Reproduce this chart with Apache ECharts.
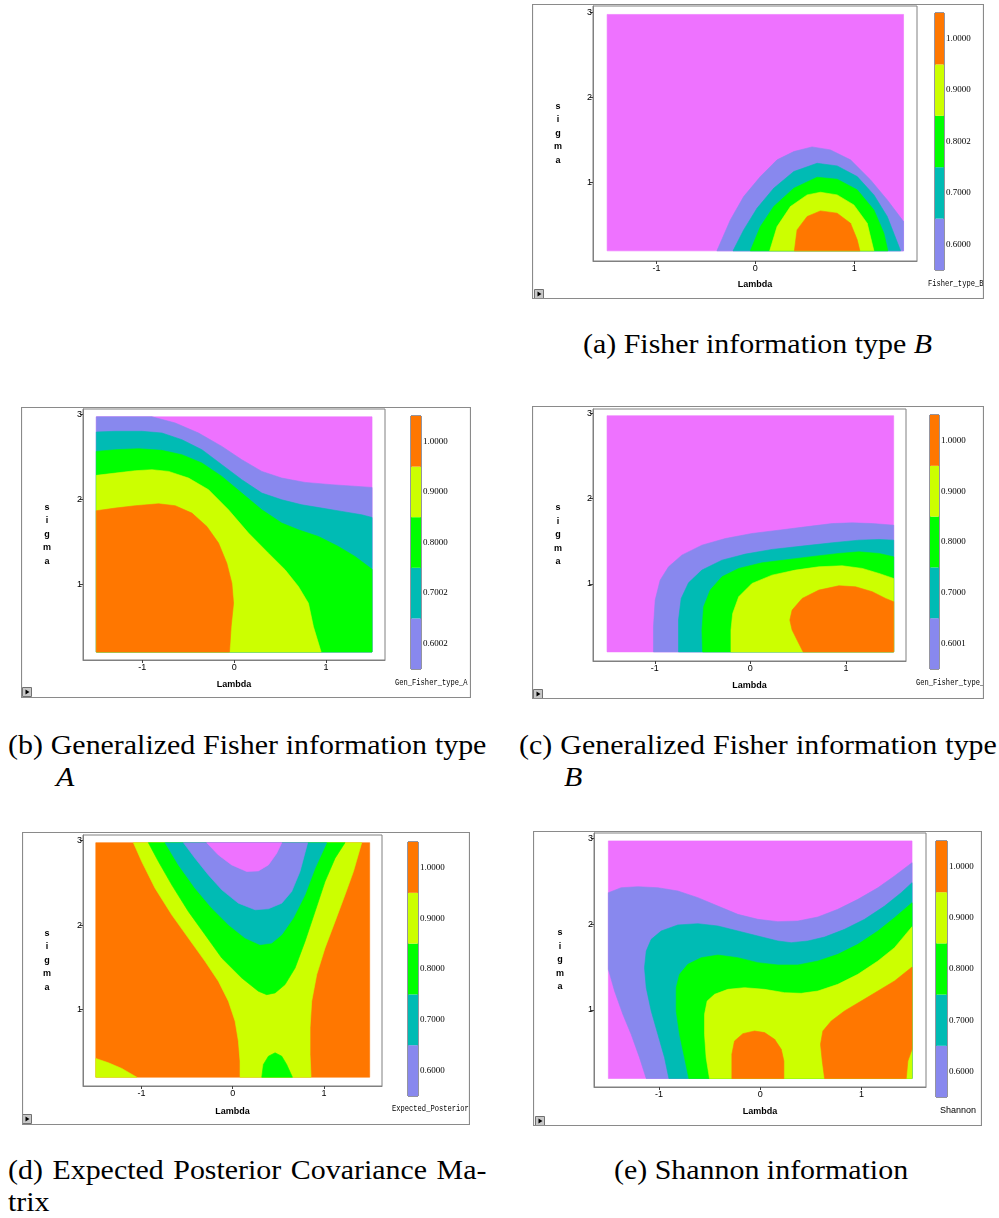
<!DOCTYPE html>
<html>
<head>
<meta charset="utf-8">
<title>Information criteria contour maps</title>
<script src="https://cdn.jsdelivr.net/npm/echarts@6.0.0/dist/echarts.min.js"></script>
<style>
html,body{margin:0;padding:0;background:#fff;}
body{width:999px;height:1218px;position:relative;overflow:hidden;}
.panel{position:absolute;}
.cap{position:absolute;font-family:'Liberation Serif','Times New Roman',serif;font-size:27px;line-height:28px;color:#000;white-space:nowrap;transform-origin:0 0;}
</style>
</head>
<body>
<div id="pa" class="panel"></div>
<div id="pb" class="panel"></div>
<div id="pc" class="panel"></div>
<div id="pd" class="panel"></div>
<div id="pe" class="panel"></div>

<div class="cap" id="capA" data-x="583" data-y="345">(a) Fisher information type <i>B</i></div>
<div class="cap" data-x="8" data-y="746" data-w="478">(b) Generalized Fisher information type</div>
<div class="cap" data-x="56" data-y="778"><i>A</i></div>
<div class="cap" data-x="519" data-y="746" data-w="478">(c) Generalized Fisher information type</div>
<div class="cap" data-x="564" data-y="778"><i>B</i></div>
<div class="cap" data-x="8" data-y="1171" data-w="478">(d) Expected Posterior Covariance Ma-</div>
<div class="cap" data-x="8" data-y="1203">trix</div>
<div class="cap" data-x="614" data-y="1171">(e) Shannon information</div>

<script>
// ================= DATA =================
const lambdaTicks = [-1, 0, 1];
const sigmaTicks = [1, 2, 3];
const lambdaDomain = [-1.5, 1.5];
const sigmaDomain = [0.2, 2.975];

// colour-bar tick labels (bottom -> top)
const cbarLabelsA = ['0.6000', '0.7000', '0.8002', '0.9000', '1.0000'];
const cbarLabelsB = ['0.6002', '0.7002', '0.8000', '0.9000', '1.0000'];
const cbarLabelsC = ['0.6001', '0.7000', '0.8000', '0.9000', '1.0000'];
const cbarLabelsD = ['0.6000', '0.7000', '0.8000', '0.9000', '1.0000'];
const cbarLabelsE = ['0.6000', '0.7000', '0.8000', '0.9000', '1.0000'];
const cbarValues = [1, 1, 1, 1, 1];

// contour region boundaries, [lambda, sigma]
// (a) Fisher type B : regions where value >= level
const a_ge06 = [[-0.389,0.2],[-0.253,0.563],[-0.118,0.837],[0.051,1.072],[0.220,1.268],[0.389,1.365],[0.574,1.420],[0.760,1.385],[0.963,1.268],[1.166,1.033],[1.335,0.798],[1.5,0.544],[1.5,0.2]];
const a_ge07 = [[-0.226,0.2],[-0.118,0.446],[0.017,0.700],[0.186,0.935],[0.389,1.131],[0.625,1.228],[0.828,1.197],[1.031,1.072],[1.200,0.857],[1.335,0.603],[1.470,0.2]];
const a_ge08 = [[-0.051,0.2],[0.051,0.485],[0.186,0.720],[0.389,0.935],[0.625,1.064],[0.828,1.041],[1.031,0.916],[1.200,0.681],[1.301,0.407],[1.341,0.2]];
const a_ge09 = [[0.145,0.2],[0.220,0.485],[0.355,0.720],[0.524,0.857],[0.659,0.888],[0.828,0.857],[0.997,0.739],[1.132,0.524],[1.200,0.2]];
const a_ge10 = [[0.395,0.2],[0.422,0.446],[0.524,0.603],[0.659,0.669],[0.828,0.642],[0.963,0.524],[1.031,0.329],[1.058,0.2]];

// (b) Generalized Fisher type A : value >= level
const b_ge06 = [[-1.5,2.975],[-0.895,2.975],[-0.641,2.902],[-0.388,2.784],[-0.134,2.626],[0.083,2.469],[0.301,2.331],[0.518,2.252],[0.772,2.201],[1.062,2.174],[1.5,2.142],[1.5,0.2],[-1.5,0.2]];
const b_ge07 = [[-1.5,2.796],[-1.293,2.804],[-1.004,2.804],[-0.786,2.784],[-0.569,2.705],[-0.351,2.587],[-0.134,2.410],[0.083,2.233],[0.301,2.075],[0.518,1.996],[0.736,1.937],[0.953,1.898],[1.170,1.859],[1.388,1.819],[1.5,1.788],[1.5,0.2],[-1.5,0.2]];
const b_ge08 = [[-1.5,2.567],[-1.293,2.587],[-1.040,2.599],[-0.786,2.579],[-0.569,2.528],[-0.351,2.430],[-0.134,2.272],[0.083,2.075],[0.301,1.878],[0.518,1.721],[0.699,1.642],[0.917,1.563],[1.134,1.445],[1.315,1.327],[1.5,1.177],[1.5,0.2],[-1.5,0.2]];
const b_ge09 = [[-1.5,2.284],[-1.293,2.311],[-1.076,2.339],[-0.895,2.351],[-0.714,2.331],[-0.496,2.252],[-0.279,2.115],[-0.062,1.878],[0.156,1.603],[0.373,1.366],[0.554,1.170],[0.699,0.973],[0.808,0.776],[0.862,0.500],[0.946,0.2],[-1.5,0.2]];
const b_ge10 = [[-1.5,1.867],[-1.293,1.898],[-1.076,1.926],[-0.822,1.949],[-0.641,1.926],[-0.460,1.839],[-0.297,1.681],[-0.170,1.485],[-0.080,1.248],[-0.025,1.012],[-0.007,0.776],[-0.033,0.500],[-0.051,0.2],[-1.5,0.2]];

// (c) Generalized Fisher type B : value >= level
const c_ge06 = [[-1.014,0.2],[-1.014,0.496],[-0.996,0.809],[-0.944,1.043],[-0.856,1.200],[-0.717,1.337],[-0.507,1.454],[-0.262,1.532],[0.017,1.591],[0.297,1.630],[0.577,1.669],[0.856,1.708],[1.066,1.716],[1.276,1.708],[1.5,1.689],[1.5,0.2]];
const c_ge07 = [[-0.752,0.2],[-0.752,0.574],[-0.724,0.828],[-0.647,1.012],[-0.507,1.161],[-0.297,1.278],[-0.052,1.349],[0.227,1.404],[0.542,1.443],[0.857,1.482],[1.136,1.513],[1.346,1.521],[1.5,1.513],[1.5,0.2]];
const c_ge08 = [[-0.5,0.2],[-0.507,0.457],[-0.489,0.731],[-0.420,0.926],[-0.297,1.083],[-0.122,1.181],[0.122,1.247],[0.402,1.286],[0.682,1.325],[0.926,1.357],[1.136,1.376],[1.346,1.357],[1.5,1.317],[1.5,0.2]];
const c_ge09 = [[-0.203,0.2],[-0.203,0.457],[-0.185,0.652],[-0.122,0.848],[0.017,1.004],[0.227,1.102],[0.472,1.161],[0.717,1.200],[0.961,1.212],[1.171,1.181],[1.346,1.122],[1.5,1.063],[1.5,0.2]];
const c_ge10 = [[0.552,0.2],[0.489,0.339],[0.437,0.457],[0.413,0.574],[0.437,0.691],[0.542,0.828],[0.717,0.926],[0.926,0.977],[1.101,0.965],[1.276,0.907],[1.416,0.828],[1.5,0.789],[1.5,0.2]];

// (d) Expected posterior covariance : regions where value < level
const d_lt10a = [[-1.088,2.975],[-0.997,2.752],[-0.851,2.437],[-0.668,2.122],[-0.486,1.847],[-0.303,1.571],[-0.157,1.335],[-0.047,1.099],[0.026,0.863],[0.062,0.627],[0.080,0.391],[0.080,0.2],[0.858,0.2],[0.847,0.469],[0.847,0.784],[0.865,1.099],[0.920,1.414],[1.011,1.729],[1.121,2.043],[1.230,2.358],[1.322,2.633],[1.413,2.975]];
const d_lt10b = [[-1.5,0.422],[-1.362,0.371],[-1.216,0.304],[-1.051,0.2],[-1.5,0.2]];
const d_lt09a = [[-0.924,2.975],[-0.814,2.752],[-0.668,2.476],[-0.486,2.161],[-0.303,1.886],[-0.120,1.610],[0.099,1.374],[0.281,1.217],[0.372,1.177],[0.464,1.197],[0.573,1.296],[0.683,1.492],[0.792,1.807],[0.902,2.161],[1.011,2.515],[1.121,2.791],[1.230,2.975]];
const d_lt09b = [[0.318,0.2],[0.336,0.351],[0.391,0.449],[0.464,0.489],[0.537,0.449],[0.591,0.351],[0.654,0.2]];
const d_lt08 = [[-0.741,2.975],[-0.595,2.712],[-0.413,2.437],[-0.230,2.201],[-0.047,2.004],[0.135,1.847],[0.299,1.768],[0.427,1.787],[0.537,1.886],[0.664,2.083],[0.792,2.358],[0.902,2.673],[1.030,2.975]];
const d_lt07 = [[-0.540,2.975],[-0.413,2.791],[-0.267,2.594],[-0.120,2.417],[0.062,2.259],[0.245,2.181],[0.391,2.193],[0.537,2.259],[0.646,2.397],[0.737,2.633],[0.821,2.975]];
const d_lt06 = [[-0.285,2.975],[-0.157,2.830],[-0.011,2.712],[0.153,2.634],[0.281,2.641],[0.391,2.712],[0.482,2.850],[0.537,2.975]];

// (e) Shannon information : value >= level
const e_ge06 = [[-1.5,2.370],[-1.374,2.428],[-1.209,2.440],[-1.011,2.428],[-0.814,2.390],[-0.616,2.312],[-0.418,2.214],[-0.221,2.117],[-0.023,2.059],[0.175,2.032],[0.372,2.039],[0.570,2.086],[0.767,2.176],[0.965,2.292],[1.163,2.428],[1.327,2.565],[1.5,2.720],[1.5,0.2],[-1.126,0.2],[-1.192,0.444],[-1.275,0.716],[-1.357,0.950],[-1.439,1.222],[-1.5,1.475]];
const e_ge07 = [[-0.902,0.2],[-0.945,0.444],[-1.011,0.716],[-1.077,0.989],[-1.126,1.261],[-1.143,1.494],[-1.126,1.689],[-1.077,1.825],[-0.978,1.923],[-0.814,1.993],[-0.616,2.008],[-0.418,1.981],[-0.221,1.923],[-0.023,1.864],[0.175,1.806],[0.306,1.786],[0.471,1.806],[0.636,1.852],[0.833,1.942],[1.031,2.059],[1.229,2.214],[1.393,2.370],[1.5,2.487],[1.5,0.2]];
const e_ge08 = [[-0.705,0.2],[-0.748,0.444],[-0.797,0.716],[-0.830,0.989],[-0.830,1.261],[-0.797,1.417],[-0.715,1.533],[-0.583,1.611],[-0.418,1.642],[-0.221,1.611],[-0.023,1.553],[0.175,1.526],[0.372,1.526],[0.570,1.572],[0.767,1.650],[0.965,1.767],[1.163,1.923],[1.327,2.078],[1.5,2.253],[1.5,0.2]];
const e_ge09 = [[-0.501,0.2],[-0.534,0.444],[-0.550,0.716],[-0.550,0.950],[-0.524,1.105],[-0.451,1.183],[-0.320,1.241],[-0.155,1.261],[0.043,1.241],[0.240,1.203],[0.405,1.195],[0.570,1.222],[0.767,1.300],[0.965,1.417],[1.163,1.572],[1.327,1.728],[1.5,1.973],[1.5,0.2]];
const e_ge10a = [[-0.280,0.2],[-0.280,0.483],[-0.254,0.638],[-0.171,0.724],[-0.056,0.755],[0.043,0.736],[0.142,0.658],[0.208,0.541],[0.234,0.405],[0.234,0.2]];
const e_ge10b = [[0.636,0.2],[0.613,0.405],[0.596,0.599],[0.619,0.755],[0.702,0.872],[0.833,0.989],[0.998,1.105],[1.163,1.222],[1.327,1.339],[1.5,1.502],[1.5,0.541],[1.459,0.405],[1.443,0.2]];

// ================= STYLE / LAYOUT =================
const COL = {
  mag: '#EE72FF', blue: '#8888EE', teal: '#00BBB4',
  green: '#00FF00', yellow: '#CCFF00', orange: '#FF7700'
};
const cbarColors = [COL.blue, COL.teal, COL.green, COL.yellow, COL.orange]; // bottom -> top
const domainPoly = [
  [lambdaDomain[0], sigmaDomain[0]], [lambdaDomain[1], sigmaDomain[0]],
  [lambdaDomain[1], sigmaDomain[1]], [lambdaDomain[0], sigmaDomain[1]]
];

const panels = [
  { id: 'pa', box: [532, 4, 452, 295], grid: [61, 2, 324, 255], xr: [-1.643, 1.636], yr: [0.081, 3.074],
    cbar: [403, 9, 9, 257], labels: cbarLabelsA, title: 'Fisher_type_B', titleX: 396, titleY: 280,
    titleMono: true, sigmaGap: 35, lambdaGap: 24, button: [2, 285],
    base: COL.mag,
    layers: [[a_ge06, COL.blue], [a_ge07, COL.teal], [a_ge08, COL.green], [a_ge09, COL.yellow], [a_ge10, COL.orange]] },
  { id: 'pb', box: [21, 407, 450, 291], grid: [62, 2, 302, 251], xr: [-1.645, 1.641], yr: [0.106, 3.067],
    cbar: [390, 9, 10, 253], labels: cbarLabelsB, title: 'Gen_Fisher_type_A', titleX: 374, titleY: 276,
    titleMono: true, sigmaGap: 36, lambdaGap: 25, button: [1, 280],
    base: COL.mag,
    layers: [[b_ge06, COL.blue], [b_ge07, COL.teal], [b_ge08, COL.green], [b_ge09, COL.yellow], [b_ge10, COL.orange]] },
  { id: 'pc', box: [532, 406, 452, 293], grid: [61, 3, 313, 252], xr: [-1.647, 1.629], yr: [0.093, 3.054],
    cbar: [398, 9, 9, 254], labels: cbarLabelsC, title: 'Gen_Fisher_type_B', titleX: 384, titleY: 277,
    titleMono: true, sigmaGap: 35, lambdaGap: 25, button: [1, 283],
    base: COL.mag,
    layers: [[c_ge06, COL.blue], [c_ge07, COL.teal], [c_ge08, COL.green], [c_ge09, COL.yellow], [c_ge10, COL.orange]] },
  { id: 'pd', box: [22, 832, 448, 293], grid: [61, 3, 299, 251], xr: [-1.64, 1.635], yr: [0.096, 3.066],
    cbar: [386, 10, 10, 254], labels: cbarLabelsD, title: 'Expected_Posterior', titleX: 370, titleY: 277,
    titleMono: true, sigmaGap: 36, lambdaGap: 26, button: [0, 282],
    base: COL.orange,
    layers: [[d_lt10a, COL.yellow], [d_lt10b, COL.yellow], [d_lt09a, COL.green], [d_lt09b, COL.green],
             [d_lt08, COL.teal], [d_lt07, COL.blue], [d_lt06, COL.mag]] },
  { id: 'pe', box: [533, 831, 449, 295], grid: [61, 2, 332, 254], xr: [-1.642, 1.638], yr: [0.101, 3.067],
    cbar: [403, 10, 11, 256], labels: cbarLabelsE, title: 'Shannon', titleX: 425, titleY: 280,
    titleMono: false, sigmaGap: 34, lambdaGap: 25, button: [2, 285],
    base: COL.mag,
    layers: [[e_ge06, COL.blue], [e_ge07, COL.teal], [e_ge08, COL.green], [e_ge09, COL.yellow],
             [e_ge10a, COL.orange], [e_ge10b, COL.orange]] }
];

function buildPanel(p) {
  const el = document.getElementById(p.id);
  el.style.left = p.box[0] + 'px';
  el.style.top = p.box[1] + 'px';
  el.style.width = p.box[2] + 'px';
  el.style.height = p.box[3] + 'px';
  const chart = echarts.init(el, null, { renderer: 'canvas' });
  const shapes = [[domainPoly, p.base]].concat(p.layers);
  const W = p.box[2], H = p.box[3];
  const bx = p.button[0], by = p.button[1];
  const axisFont = { fontFamily: 'Liberation Sans', fontSize: 9, color: '#000' };

  const titleEl = p.titleMono
    ? { type: 'text', silent: true, x: p.titleX, y: p.titleY, scaleX: 0.79,
        style: { text: p.title, fontFamily: 'Liberation Mono', fontSize: 9, fill: '#000',
          align: 'left', verticalAlign: 'middle' } }
    : { type: 'text', silent: true, x: p.titleX, y: p.titleY,
        style: { text: p.title, fontFamily: 'Liberation Sans', fontSize: 9, fill: '#000',
          align: 'center', verticalAlign: 'middle' } };

  chart.setOption({
    animation: false,
    backgroundColor: '#fff',
    grid: [
      { left: p.grid[0], top: p.grid[1], width: p.grid[2], height: p.grid[3], show: true,
        backgroundColor: '#fff', borderColor: '#808080', borderWidth: 1 },
      { left: p.cbar[0], top: p.cbar[1], width: p.cbar[2], height: p.cbar[3], show: true,
        backgroundColor: 'transparent', borderColor: '#2a2a40', borderWidth: 1 }
    ],
    xAxis: [
      { gridIndex: 0, type: 'value', min: p.xr[0], max: p.xr[1],
        axisLine: { show: true, onZero: false, lineStyle: { color: '#808080', width: 1 } },
        axisTick: { show: true, length: 3, customValues: lambdaTicks, lineStyle: { color: '#404040' } },
        axisLabel: Object.assign({ customValues: lambdaTicks, margin: 3 }, axisFont),
        splitLine: { show: false },
        name: 'Lambda', nameLocation: 'middle', nameGap: p.lambdaGap,
        nameTextStyle: { fontFamily: 'Liberation Sans', fontWeight: 'bold', fontSize: 9, color: '#000', verticalAlign: 'middle' } },
      { gridIndex: 1, type: 'value', min: 0, max: 1, show: false, axisLine: { onZero: false } }
    ],
    yAxis: [
      { gridIndex: 0, type: 'value', min: p.yr[0], max: p.yr[1],
        axisLine: { show: true, onZero: false, lineStyle: { color: '#808080', width: 1 } },
        axisTick: { show: true, length: 3, customValues: sigmaTicks, lineStyle: { color: '#404040' } },
        axisLabel: Object.assign({ customValues: sigmaTicks, margin: 1 }, axisFont),
        splitLine: { show: false },
        name: 's\ni\ng\nm\na', nameLocation: 'middle', nameRotate: 0, nameGap: p.sigmaGap,
        nameTextStyle: { fontFamily: 'Liberation Sans', fontWeight: 'bold', fontSize: 9, color: '#000',
          align: 'center', verticalAlign: 'middle', lineHeight: 13.5 } },
      { gridIndex: 1, type: 'category', data: p.labels, position: 'right',
        axisLine: { show: false, onZero: false }, axisTick: { show: false }, splitLine: { show: false },
        axisLabel: { fontFamily: 'Liberation Serif', fontSize: 9, color: '#000', margin: 2 } }
    ],
    series: [
      { type: 'custom', xAxisIndex: 0, yAxisIndex: 0, silent: true, clip: true,
        data: shapes.map(s => s[0][0]),
        renderItem: function (params, api) {
          const s = shapes[params.dataIndex];
          return { type: 'polygon',
            shape: { points: s[0].map(pt => api.coord(pt)) },
            style: { fill: s[1], stroke: s[1], lineWidth: 0.6 } };
        } },
      { type: 'bar', xAxisIndex: 1, yAxisIndex: 1, silent: true, barWidth: '100%',
        data: cbarValues.map((v, i) => ({ value: v, itemStyle: { color: cbarColors[i] } })) }
    ],
    graphic: [
      { type: 'rect', silent: true, shape: { x: 0.5, y: 0.5, width: W - 1, height: H - 1 },
        style: { fill: 'none', stroke: '#8a8a8a', lineWidth: 1.2 }, z: 100 },
      titleEl,
      { type: 'rect', silent: true, shape: { x: bx + 0.5, y: by + 0.5, width: 9, height: 9 },
        style: { fill: '#c8c8c8', stroke: '#707070', lineWidth: 1 } },
      { type: 'polygon', silent: true, shape: { points: [[bx + 3.5, by + 2.5], [bx + 7.5, by + 5], [bx + 3.5, by + 7.5]] },
        style: { fill: '#000' } }
    ]
  });
}

panels.forEach(buildPanel);

// ================= CAPTIONS =================
(function layoutCaptions() {
  const caps = Array.from(document.querySelectorAll('.cap'));
  const ref = document.getElementById('capA');
  const k = 349 / ref.offsetWidth;
  caps.forEach(c => {
    const w = c.getAttribute('data-w');
    if (w) {
      const nat = c.offsetWidth;
      const spaces = (c.textContent.match(/ /g) || []).length;
      const ws = (parseFloat(w) / k - nat) / spaces;
      c.style.wordSpacing = ws + 'px';
    }
    c.style.left = c.getAttribute('data-x') + 'px';
    c.style.top = (parseFloat(c.getAttribute('data-y')) - 15) + 'px';
    c.style.transform = 'scaleX(' + k + ')';
  });
})();
</script>
</body>
</html>
